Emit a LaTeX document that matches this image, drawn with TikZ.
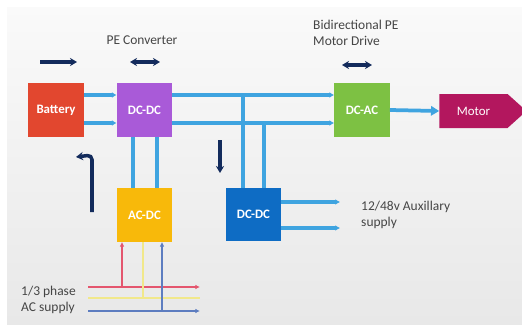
\documentclass[tikz,border=0pt]{standalone}
\usepackage{fontspec}
\setmainfont{Carlito}
\usetikzlibrary{shapes.symbols,arrows.meta}

\definecolor{busblue}{HTML}{3FA4E0}
\definecolor{navy}{HTML}{132B5C}
\definecolor{battred}{HTML}{E2472F}
\definecolor{convpurple}{HTML}{A95AD8}
\definecolor{invgreen}{HTML}{7DC143}
\definecolor{rectyellow}{HTML}{F8B90A}
\definecolor{auxblue}{HTML}{0E6CC4}
\definecolor{motormag}{HTML}{B3175E}
\definecolor{txtgray}{HTML}{454545}
\definecolor{phred}{HTML}{E4566E}
\definecolor{phyellow}{HTML}{F1E88A}
\definecolor{phblue}{HTML}{5D7DC0}

\tikzset{
  unit/.style={minimum width=1.66cm, minimum height=1.6cm, inner sep=0pt,
    text=white, font=\fontsize{11}{13}\selectfont\bfseries},
  bus/.style={busblue, line width=2.9pt},
  flow/.style={navy, line width=3pt},
  phase/.style={line width=1.1pt},
  note/.style={text=txtgray, font=\fontsize{11.5}{14}\selectfont,
    align=left, inner sep=0pt},
}

\begin{document}
\begin{tikzpicture}[x=0.03cm,y=-0.03cm]

\useasboundingbox (0,0) rectangle (522,329);
\shade[top color=gray!4, bottom color=gray!18] (7,7) rectangle (522,324);

\node[unit, fill=battred] (batt) at (56,110) {Battery};
\node[unit, fill=convpurple] (conv) at (144.5,110) {DC-DC};
\node[unit, fill=invgreen] (dcac) at (362,110) {DC-AC};
\node[unit, fill=rectyellow] (acdc) at (144.5,215) {AC-DC};
\node[unit, fill=auxblue] (aux) at (253.5,214.5) {DC-DC};
\node[signal, signal to=east, signal pointer angle=84, fill=motormag, text=white,
  minimum width=2.61cm, minimum height=1.02cm, inner sep=0pt,
  font=\fontsize{11}{13}\selectfont] (motor) at (473.5,111) {Motor};

\coordinate (tapA) at (243,95);
\coordinate (tapB) at (264,123);
\coordinate (auxoutA) at (340,202);
\coordinate (auxoutB) at (340,228);

% DC bus
\draw[bus, -{Latex[length=4pt,width=5pt]}] (batt.east |- 0,95) -- (conv.west |- 0,95);
\draw[bus, -{Latex[length=4pt,width=5pt]}] (batt.east |- 0,123) -- (conv.west |- 0,123);
\draw[bus, -{Latex[length=4pt,width=5pt]}] (conv.east |- 0,95) -- (dcac.west |- 0,95);
\draw[bus, -{Latex[length=4pt,width=5pt]}] (conv.east |- 0,123) -- (dcac.west |- 0,123);
\draw[bus] (tapA) -- (tapA |- aux.north);
\draw[bus] (tapB) -- (tapB |- aux.north);
\draw[bus] (acdc.north -| 133,0) -- (conv.south -| 133,0);
\draw[bus] (acdc.north -| 157,0) -- (conv.south -| 157,0);
\draw[bus, -{Latex[length=4pt,width=5pt]}] (aux.east |- auxoutA) -- (auxoutA);
\draw[bus, -{Latex[length=4pt,width=5pt]}] (aux.east |- auxoutB) -- (auxoutB);
\draw[bus, line width=3.2pt, -{Triangle[length=7pt,width=8pt]}] (dcac.east) -- (motor.west);

% power flow
\draw[flow, -{Stealth[length=6pt,width=7pt]}] (40,62) -- (77,62);
\draw[flow, {Stealth[length=6pt,width=7pt]}-{Stealth[length=6pt,width=7pt]}] (130,62) -- (160,62);
\draw[flow, {Stealth[length=6pt,width=7pt]}-{Stealth[length=6pt,width=7pt]}] (342,65) -- (372,65);
\draw[flow, -{Stealth[length=6pt,width=7pt]}] (220,140) -- (220,173);
\draw[flow, rounded corners=4pt, -{Stealth[length=6pt,width=7pt]}] (92,212) -- (92,155) -- (76,157);

% AC supply
\draw[phase, phred, -{Latex[length=4pt,width=4pt]}] (88,287) -- (200,287);
\draw[phase, phyellow] (88,298) -- (200,298);
\draw[phase, phblue, -{Latex[length=4pt,width=4pt]}] (88,311) -- (200,311);
\draw[phase, phred, -{Latex[length=4pt,width=4pt]}] (122,287) -- (acdc.south -| 122,0);
\draw[phase, phyellow] (143,298) -- (acdc.south -| 143,0);
\draw[phase, phblue, -{Latex[length=4pt,width=4pt]}] (162,311) -- (acdc.south -| 162,0);

\node[note, anchor=base] (convhead) at (142,44) {PE Converter};
\node[note, anchor=north west] (drvhead) at (313,20) {Bidirectional PE\\Motor Drive};
\node[note, anchor=west] (auxnote) at (361,215) {12/48v Auxillary\\supply};
\node[note, anchor=west] (acnote) at (21,300) {1/3 phase\\AC supply};

\end{tikzpicture}
\end{document}
